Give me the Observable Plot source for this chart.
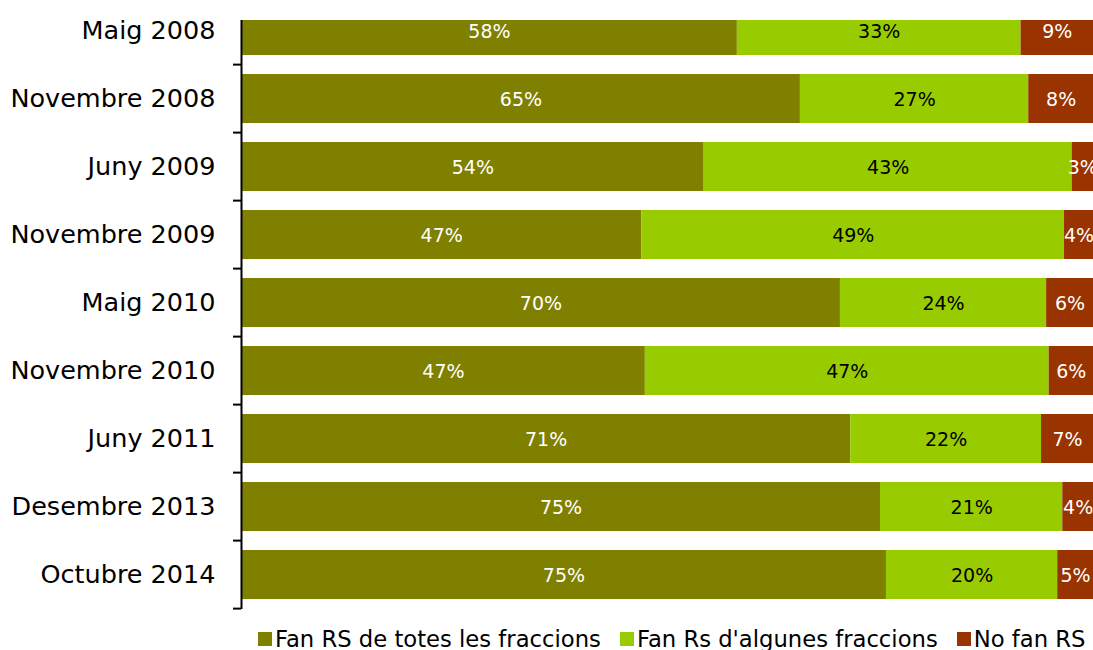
<!DOCTYPE html>
<html>
<head>
<meta charset="utf-8">
<script src="https://cdn.jsdelivr.net/npm/d3@7"></script>
<script src="https://cdn.jsdelivr.net/npm/@observablehq/plot@0.6"></script>
<style>
  html, body { margin: 0; padding: 0; background: #fff; }
  body { width: 1093px; height: 650px; overflow: hidden; font-family: "DejaVu Sans", sans-serif; }
  #legend { display: flex; align-items: center; height: 35px; margin-top: 6px; padding-left: 258px; font-size: 22.7px; color: #000; white-space: nowrap; }
  .item { display: flex; align-items: center; margin-right: 19px; }
  .sw { width: 14px; height: 14px; margin-right: 3px; }
</style>
</head>
<body>
<div id="chart"></div>
<div id="legend"></div>
<script>
const periods = ["Maig 2008", "Novembre 2008", "Juny 2009", "Novembre 2009", "Maig 2010", "Novembre 2010", "Juny 2011", "Desembre 2013", "Octubre 2014"];
const seriesNames = ["Fan RS de totes les fraccions", "Fan Rs d'algunes fraccions", "No fan RS"];
// shares (%)
const allFractions = [58.2, 65.6, 54.3, 47.0, 70.3, 47.4, 71.5, 75.0, 75.7];
const someFractions = [33.3, 26.8, 43.2, 49.6, 24.2, 47.4, 22.4, 21.4, 20.1];
const noRS = [8.5, 7.6, 2.5, 3.4, 5.5, 5.2, 6.1, 3.6, 4.2];
// printed percentage labels
const allFractionsLabels = ["58%", "65%", "54%", "47%", "70%", "47%", "71%", "75%", "75%"];
const someFractionsLabels = ["33%", "27%", "43%", "49%", "24%", "47%", "22%", "21%", "20%"];
const noRSLabels = ["9%", "8%", "3%", "4%", "6%", "6%", "7%", "4%", "5%"];
const colors = ["#808000", "#99cc00", "#993300"];
const labelColors = ["white", "black", "white"];

const seriesValues = [allFractions, someFractions, noRS];
const seriesLabels = [allFractionsLabels, someFractionsLabels, noRSLabels];
const data = [];
periods.forEach((p, i) => {
  seriesNames.forEach((s, j) => {
    data.push({period: p, series: s, order: j, value: seriesValues[j][i], label: seriesLabels[j][i], labelColor: labelColors[j]});
  });
});

const plot = Plot.plot({
  width: 1093,
  height: 615,
  marginLeft: 241,
  marginRight: 0,
  marginTop: 20,
  marginBottom: 6,
  style: {fontFamily: "DejaVu Sans, sans-serif", background: "#fff"},
  x: {domain: [0, 100], axis: null},
  y: {domain: periods, range: [-5, 609], paddingInner: 0.28, paddingOuter: 0.14, label: null},
  color: {domain: seriesNames, range: colors},
  marks: [
    Plot.barX(data, Plot.stackX({x: "value", y: "period", fill: "series", order: "order", clip: true})),
    Plot.text(data, Plot.stackX({x: "value", y: "period", z: "series", order: "order", text: "label", fill: "labelColor", fontSize: 19, dy: 1})),
    Plot.ruleX([0], {stroke: "black", strokeWidth: 2}),
    Plot.axisY({tickSize: 0, tickPadding: 26, fontSize: 25.5, fill: "black", label: null})
  ]
});

// Tick marks at band boundaries, computed from Plot's y scale
const y = plot.scale("y");
const step = (y.range[1] - y.range[0]) / periods.length;
const x0 = 241;
const svg = d3.select(plot);
periods.forEach((p, i) => {
  const yy = y.apply(p) + y.bandwidth + (step - y.bandwidth) / 2;
  svg.append("line").attr("x1", x0 - 8).attr("x2", x0).attr("y1", yy).attr("y2", yy)
    .attr("stroke", "black").attr("stroke-width", 2);
});

document.getElementById("chart").appendChild(plot);

const legend = document.getElementById("legend");
seriesNames.forEach((s, j) => {
  const it = document.createElement("div");
  it.className = "item";
  const sw = document.createElement("span");
  sw.className = "sw";
  sw.style.background = colors[j];
  const t = document.createElement("span");
  t.textContent = s;
  it.appendChild(sw); it.appendChild(t);
  legend.appendChild(it);
});
</script>
</body>
</html>
